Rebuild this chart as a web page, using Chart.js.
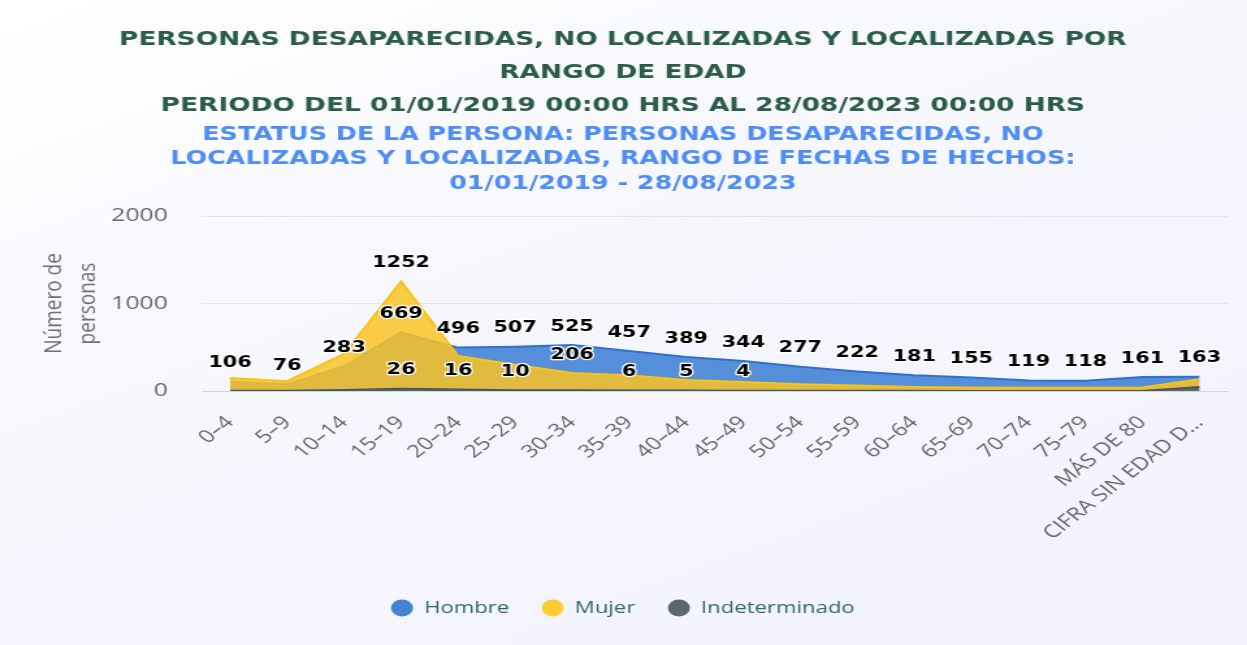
<!DOCTYPE html>
<html>
<head>
<meta charset="utf-8">
<script src="https://cdn.jsdelivr.net/npm/chart.js@4.4.0/dist/chart.umd.min.js"></script>
<style>
html, body { margin: 0; padding: 0; }
body {
    width: 1247px; height: 645px; overflow: hidden;
    background: linear-gradient(160deg, #ffffff 0%, #f7f8fd 35%, #f1f2fd 100%);
}
#grafica { display: block; }
</style>
</head>
<body>
<!-- el lienzo se dibuja a 959 px y se estira a 1247 px, como la imagen original -->
<canvas id="grafica" width="959" height="645" style="width:1247px;height:645px"></canvas>
<script>
const rangos = ['0–4', '5–9', '10–14', '15–19', '20–24', '25–29', '30–34', '35–39', '40–44',
    '45–49', '50–54', '55–59', '60–64', '65–69', '70–74', '75–79', 'MÁS DE 80', 'CIFRA SIN EDAD D…'];
const hombres = [106, 76, 283, 669, 496, 507, 525, 457, 389, 344, 277, 222, 181, 155, 119, 118, 161, 163];
const mujeres = [148, 112, 425, 1252, 400, 300, 206, 181, 125, 104, 78, 62, 47, 40, 36, 36, 40, 135];
const indeterminados = [3, 2, 12, 26, 16, 10, 8, 6, 5, 4, 3, 2, 2, 1, 1, 1, 1, 45];
const ticksY = [0, 1000, 2000];

const series = ['Hombre', 'Mujer', 'Indeterminado'];
const colores = ['#4482d4', '#ffcb35', '#5b666f'];
const lineas = ['#2f70d0', '#f7c21a', '#4b555d'];
const rellenos = ['rgba(70,134,214,0.92)', 'rgba(250,195,35,0.85)', 'rgba(80,90,100,0.85)'];

// etiquetas de datos; se ocultan las que chocan con una ya dibujada
const etiquetas = {
    id: 'etiquetas',
    afterDatasetsDraw(chart) {
        const ctx = chart.ctx;
        ctx.save();
        ctx.font = 'bold 16px "DejaVu Sans"';
        ctx.textAlign = 'center';
        ctx.textBaseline = 'middle';
        ctx.lineJoin = 'round';
        const cajas = [];
        chart.data.datasets.forEach((ds, di) => {
            const meta = chart.getDatasetMeta(di);
            meta.data.forEach((pt, i) => {
                const texto = String(ds.data[i]);
                const w = ctx.measureText(texto).width + 8;
                const h = 25;
                const cx = pt.x, cy = pt.y - 18.5;
                const caja = { x1: cx - w / 2, x2: cx + w / 2, y1: cy - h / 2, y2: cy + h / 2 };
                const choca = cajas.some(b => caja.x1 < b.x2 && caja.x2 > b.x1 && caja.y1 < b.y2 && caja.y2 > b.y1);
                if (choca) return;
                cajas.push(caja);
                ctx.lineWidth = 2.5;
                ctx.strokeStyle = '#ffffff';
                ctx.strokeText(texto, cx, cy);
                ctx.fillStyle = '#000000';
                ctx.fillText(texto, cx, cy);
            });
        });
        ctx.restore();
    }
};

const datos = [hombres, mujeres, indeterminados];

new Chart(document.getElementById('grafica'), {
    type: 'line',
    data: {
        labels: rangos,
        datasets: datos.map((d, i) => ({
            label: series[i],
            data: d,
            borderColor: lineas[i],
            backgroundColor: rellenos[i],
            borderWidth: 2,
            fill: 'origin',
            pointRadius: 0,
            tension: 0,
            order: 3 - i
        }))
    },
    options: {
        responsive: false,
        animation: false,
        devicePixelRatio: 1,
        layout: { padding: { left: 10, right: 11, top: 0, bottom: 18.5 } },
        plugins: {
            title: {
                display: true,
                text: ['PERSONAS DESAPARECIDAS, NO LOCALIZADAS Y LOCALIZADAS POR',
                    'RANGO DE EDAD',
                    'PERIODO DEL 01/01/2019 00:00 HRS AL 28/08/2023 00:00 HRS'],
                color: '#2a5c48',
                font: { family: '"DejaVu Sans"', size: 20.3, weight: 'bold', lineHeight: 33 / 20.3 },
                padding: { top: 23.5, bottom: 0 }
            },
            subtitle: {
                display: true,
                text: ['ESTATUS DE LA PERSONA: PERSONAS DESAPARECIDAS, NO',
                    'LOCALIZADAS Y LOCALIZADAS, RANGO DE FECHAS DE HECHOS:',
                    '01/01/2019 - 28/08/2023'],
                color: '#4f8cf4',
                font: { family: '"DejaVu Sans"', size: 19.5, weight: 'bold', lineHeight: 24.5 / 19.5 },
                padding: { top: 0, bottom: 20 }
            },
            legend: {
                position: 'bottom',
                labels: {
                    usePointStyle: true,
                    pointStyle: 'circle',
                    boxHeight: 12,
                    padding: 25,
                    color: '#2e6b58',
                    font: { family: '"Open Sans"', size: 17 },
                    sort: (a, b) => a.datasetIndex - b.datasetIndex,
                    generateLabels: (chart) => Chart.defaults.plugins.legend.labels.generateLabels(chart)
                        .map(l => ({ ...l, fillStyle: colores[l.datasetIndex], strokeStyle: colores[l.datasetIndex], lineWidth: 0 }))
                }
            },
            tooltip: { enabled: false }
        },
        scales: {
            x: {
                offset: true,
                grid: { display: false, drawTicks: false },
                border: { color: '#ccd6eb', width: 1 },
                ticks: {
                    autoSkip: false,
                    maxRotation: 45,
                    minRotation: 45,
                    padding: 21,
                    color: '#666666',
                    font: { family: '"Open Sans"', size: 18 }
                },
                afterFit: (s) => { s.height = 183.5; }
            },
            y: {
                min: 0,
                max: 2000,
                afterBuildTicks: (s) => { s.ticks = ticksY.map(v => ({ value: v })); },
                grid: { color: '#e6e6e6', drawTicks: false },
                border: { display: false },
                ticks: {
                    padding: 26,
                    color: '#666666',
                    font: { family: '"Open Sans"', size: 19 },
                    callback: (v) => String(v)
                },
                title: {
                    display: true,
                    text: ['Número de', 'personas'],
                    color: '#707070',
                    font: { family: '"Open Sans"', size: 19, lineHeight: 26 / 19 },
                    padding: { top: 19, bottom: 0 }
                },
                afterFit: (s) => { s.width = 145; }
            }
        }
    },
    plugins: [etiquetas]
});
</script>
</body>
</html>
